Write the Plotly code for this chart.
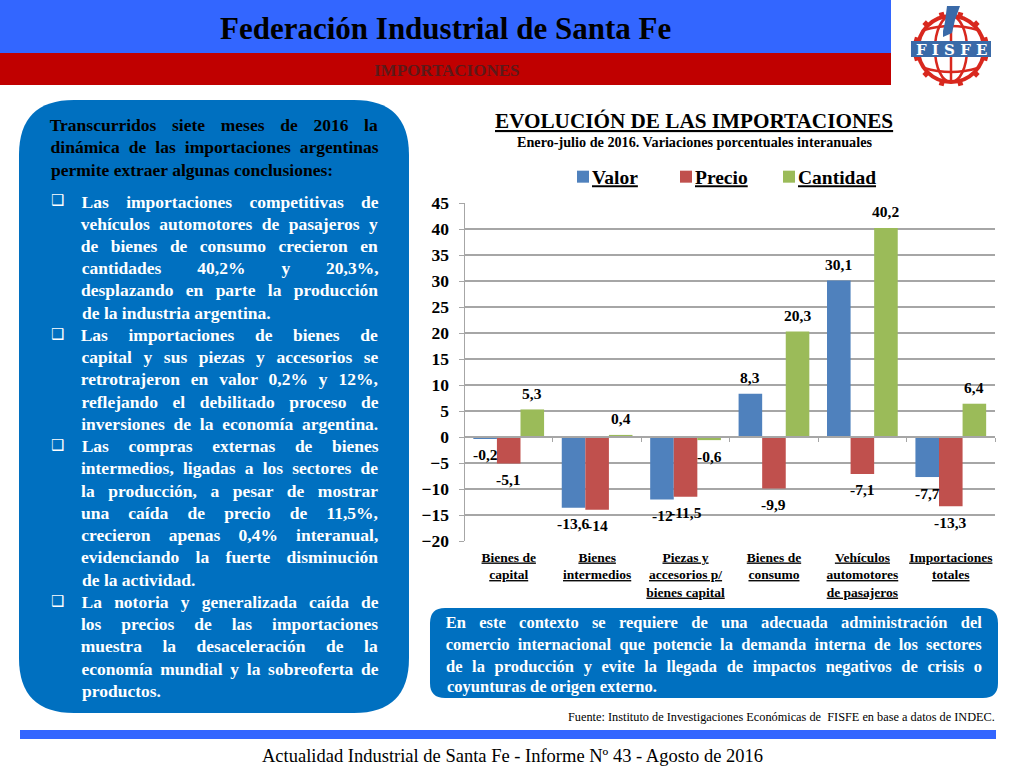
import json, math
import plotly.graph_objects as go

categories = ["Bienes de<br>capital", "Bienes<br>intermedios", "Piezas y<br>accesorios p/<br>bienes capital",
              "Bienes de<br>consumo", "Vehículos<br>automotores<br>de pasajeros", "Importaciones<br>totales"]
valor = [-0.2, -13.6, -12, 8.3, 30.1, -7.7]
precio = [-5.1, -14, -11.5, -9.9, -7.1, -13.3]
cantidad = [5.3, 0.4, -0.6, 20.3, 40.2, 6.4]
y_ticks = [-20, -15, -10, -5, 0, 5, 10, 15, 20, 25, 30, 35, 40, 45]

intro_lines = ["Transcurridos siete meses de 2016 la",
               "dinámica de las importaciones argentinas",
               "permite extraer algunas conclusiones:"]
bullet_lines = [
    "Las importaciones competitivas de", "vehículos automotores de pasajeros y",
    "de bienes de consumo crecieron en", "cantidades 40,2% y 20,3%,",
    "desplazando en parte la producción", "de la industria argentina.",
    "Las importaciones de bienes de", "capital y sus piezas y accesorios se",
    "retrotrajeron en valor 0,2% y 12%,", "reflejando el debilitado proceso de",
    "inversiones de la economía argentina.",
    "Las compras externas de bienes", "intermedios, ligadas a los sectores de",
    "la producción, a pesar de mostrar", "una caída de precio de 11,5%,",
    "crecieron apenas 0,4% interanual,", "evidenciando la fuerte disminución", "de la actividad.",
    "La notoria y generalizada caída de", "los precios de las importaciones",
    "muestra la desaceleración de la", "economía mundial y la sobreoferta de", "productos."]
bullet_starts = [0, 6, 11, 18]
left_last = {"permite extraer algunas conclusiones:", "de la industria argentina.", "de la actividad.", "productos.",
             "coyunturas de origen externo."}
box_lines = ["En este contexto se requiere de una adecuada administración del",
             "comercio internacional que potencie la demanda interna de los sectores",
             "de la producción y evite la llegada de impactos negativos de crisis o",
             "coyunturas de origen externo."]

SERIF = "Liberation Serif"
W, H = 1024, 768
px = lambda x: x / W
py = lambda y: 1 - y / H
BLUE, RED, GREEN = "#4F81BD", "#C0504D", "#9BBB59"
shapes, annotations, justify = [], [], {}

def rect(x0, y0, x1, y1, c):
    shapes.append(dict(type="rect", xref="paper", yref="paper", x0=px(x0), x1=px(x1), y0=py(y0), y1=py(y1),
                       fillcolor=c, line_width=0, layer="below"))

def rrect(x0, y0, x1, y1, r, c):
    P = lambda x, y: f"{px(x):.5f},{py(y):.5f}"
    path = (f"M{P(x0 + r, y0)} L{P(x1 - r, y0)} Q{P(x1, y0)} {P(x1, y0 + r)} L{P(x1, y1 - r)} Q{P(x1, y1)} {P(x1 - r, y1)} "
            f"L{P(x0 + r, y1)} Q{P(x0, y1)} {P(x0, y1 - r)} L{P(x0, y0 + r)} Q{P(x0, y0)} {P(x0 + r, y0)} Z")
    shapes.append(dict(type="path", xref="paper", yref="paper", path=path, fillcolor=c, line_width=0, layer="below"))

def text(x, y, s, size, color="#000", bold=True, anchor="center", under=False, family=SERIF):
    annotations.append(dict(xref="paper", yref="paper", x=px(x), y=py(y), text=s, showarrow=False, xanchor=anchor,
                            yanchor="middle", borderpad=0,
                            font=dict(family=family, size=size, color=color, weight=700 if bold else 400,
                                      lineposition="under" if under else "none")))

def para(line, x0, x1, y, size, color):
    if line in left_last:
        text(x0, y, line, size, color, anchor="left")
    else:
        text((x0 + x1) / 2, y, line, size, color)
        justify[line] = x1 - x0

# header / footer
rect(0, 0, 891, 53, "#3366FF")
rect(0, 53, 891, 85, "#C00000")
rect(20, 730, 996, 739, "#3366FF")
text(445, 29, "Federación Industrial de Santa Fe", 31)
text(447, 71, "IMPORTACIONES", 17, "#5C1A1A")
text(512, 756, "Actualidad Industrial de Santa Fe - Informe Nº 43 - Agosto de 2016", 18.5, bold=False)
text(996, 717, "Fuente: Instituto de Investigaciones Económicas de  FISFE en base a datos de INDEC.", 12.3, bold=False, anchor="right")

# panels
rrect(19, 100, 409, 713, 55, "#0070C0")
rrect(430, 608, 998, 698, 15, "#0070C0")
for line, y in zip(intro_lines, [125, 147.5, 170]):
    para(line, 50, 378, y, 17.5, "#000")
for i, line in enumerate(bullet_lines):
    y = 201.5 + i * 22.24
    para(line, 81, 378, y, 17.5, "#fff")
    if i in bullet_starts:
        text(57, y - 1, "❑", 15, "#fff", bold=False, family="DejaVu Sans")
for line, y in zip(box_lines, [622, 644, 666, 686]):
    para(line, 446, 982, y, 16.5, "#fff")

# chart titles
text(694, 121, "EVOLUCIÓN DE LAS IMPORTACIONES", 21.2, under=True)
text(694, 142, "Enero-julio de 2016. Variaciones porcentuales interanuales", 14.2)

# logo
LR, LB = "#D8281E", "#3A6AA8"
cx, cy = 951, 49
def line_s(x0, y0, x1, y1, c, w):
    shapes.append(dict(type="line", xref="paper", yref="paper", x0=px(x0), y0=py(y0), x1=px(x1), y1=py(y1),
                       line=dict(color=c, width=w)))
def ell(rx, ry, w):
    shapes.append(dict(type="circle", xref="paper", yref="paper", x0=px(cx - rx), x1=px(cx + rx), y0=py(cy - ry), y1=py(cy + ry),
                       line=dict(color=LR, width=w)))
ell(33, 33, 4)
ell(16, 33, 2.5)
line_s(cx, cy - 33, cx, cy + 33, LR, 2.5)
for k in range(12):
    a = math.radians(15 + 30 * k)
    line_s(cx + 32 * math.cos(a), cy + 32 * math.sin(a), cx + 38 * math.cos(a), cy + 38 * math.sin(a), LR, 5)
for sgn in (-1, 1):
    P = lambda x, y: f"{px(x):.5f},{py(y):.5f}"
    shapes.append(dict(type="path", xref="paper", yref="paper", line=dict(color=LR, width=2.5),
                       path=f"M{P(cx - 27, cy + sgn * 19)} Q{P(cx, cy + sgn * 27)} {P(cx + 27, cy + sgn * 19)}"))
P = lambda x, y: f"{px(x):.5f},{py(y):.5f}"
shapes.append(dict(type="path", xref="paper", yref="paper", fillcolor=LB, line_width=0,
                   path=f"M{P(947, 6)} L{P(960, 6)} L{P(955, 20)} L{P(952, 33)} L{P(943, 37)} L{P(943, 31)} L{P(945, 22)} Z"))
shapes.append(dict(type="rect", xref="paper", yref="paper", x0=px(911), x1=px(991), y0=py(41), y1=py(57), fillcolor=LB, line_width=0))
text(951, 49.5, "F I S F E", 15, "#fff", family="DejaVu Serif")

# chart
axis_font = dict(family=SERIF, size=17.5, color="#000", weight=700)
fig = go.Figure()
for name, vals, col in [("Valor", valor, BLUE), ("Precio", precio, RED), ("Cantidad", cantidad, GREEN)]:
    fig.add_trace(go.Bar(name=name, x=categories, y=vals, marker_color=col, marker_line_width=0, xaxis="x", yaxis="y"))
fig.add_trace(go.Scatter(x=[0], y=[0], xaxis="x2", yaxis="y", mode="none", showlegend=False, hoverinfo="skip"))

bar_px = 23.5
for vals, shift in [(valor, -bar_px), (precio, 0), (cantidad, bar_px)]:
    for cat, v in zip(categories, vals):
        annotations.append(dict(xref="x", yref="y", x=cat, y=v, xshift=shift, yshift=16 if v > 0 else -16,
                                text=str(v).replace(".", ","), showarrow=False, yanchor="middle", xanchor="center",
                                font=dict(family=SERIF, size=15.5, color="#000", weight=700)))

fig.update_layout(
    width=W, height=H, margin=dict(l=0, r=0, t=0, b=0, autoexpand=False), paper_bgcolor="#fff", plot_bgcolor="#fff",
    barmode="group", bargap=0.2, bargroupgap=0, shapes=shapes, annotations=annotations, showlegend=True,
    legend=dict(orientation="h", xref="paper", yref="paper", x=px(552), y=py(177), xanchor="left", yanchor="middle",
                entrywidth=58, entrywidthmode="pixels", bgcolor="rgba(0,0,0,0)", itemclick=False, itemdoubleclick=False,
                font=dict(family=SERIF, size=19.5, color="#000", weight=700, lineposition="under")),
    xaxis=dict(domain=[px(464.5), px(995)], type="category", anchor="y", side="bottom", ticks="", showgrid=False, zeroline=False,
               showline=False, tickangle=0, ticklabelstandoff=6,
               tickfont=dict(family=SERIF, size=13.5, color="#000", weight=700, lineposition="under")),
    xaxis2=dict(domain=[px(464.5), px(995)], overlaying="x", anchor="free", position=py(437), range=[-0.5, 5.5],
                tickvals=[-0.5, 0.5, 1.5, 2.5, 3.5, 4.5, 5.5], ticks="outside", ticklen=4, tickcolor="#A6A6A6",
                showticklabels=False, showgrid=False, zeroline=False, showline=True, linecolor="#A6A6A6", linewidth=1.5),
    yaxis=dict(domain=[py(541), py(203)], range=[-20, 45], tickvals=y_ticks, ticks="outside", ticklen=5, tickcolor="#A6A6A6",
               showgrid=True, gridcolor="#A6A6A6", gridwidth=1.5, zeroline=False, showline=True, linecolor="#A6A6A6",
               linewidth=1, tickfont=axis_font, ticklabelstandoff=6),
)

post = """
document.body.style.margin='0';
var J = %s;
document.querySelectorAll('.annotation-text').forEach(function(t){
  var w = J[t.textContent];
  if(!w) return;
  var n = t.textContent.split(' ').length - 1;
  if(n < 1) return;
  t.style.wordSpacing = ((w - t.getComputedTextLength()) / n) + 'px';
});
document.querySelectorAll('.legend .legendsymbols').forEach(function(s){
  s.setAttribute('transform', 'translate(11,0)');
});
document.querySelectorAll('.legend .scrollbox').forEach(function(s){
  s.removeAttribute('clip-path');
});
document.querySelectorAll('.legend').forEach(function(s){
  s.style.overflow = 'visible';
});
""" % json.dumps(justify, ensure_ascii=False)
fig.write_html("out.html", post_script=post, config={"displayModeBar": False})
